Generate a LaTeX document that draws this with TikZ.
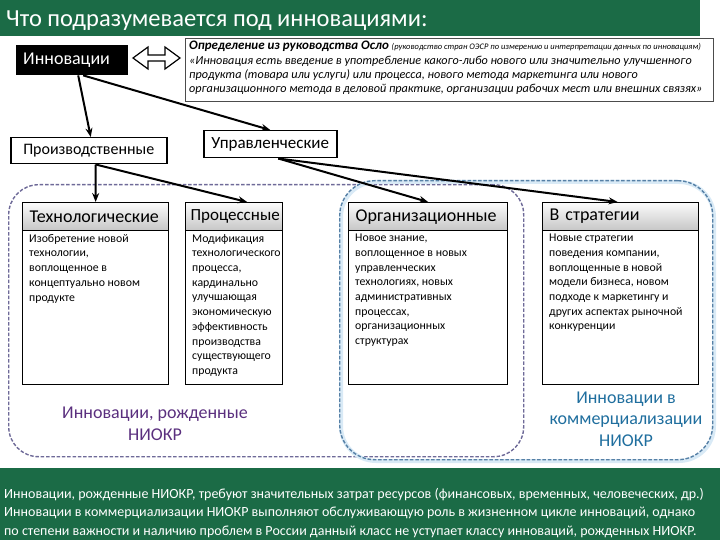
\documentclass[tikz,border=0pt]{standalone}
\usepackage{fontspec}
\setmainfont{Carlito}
\usetikzlibrary{arrows.meta}
\definecolor{grn}{HTML}{1B6B46}
\definecolor{regpurple}{HTML}{6E6A98}
\definecolor{regblue}{HTML}{5680A6}
\definecolor{glowblue}{HTML}{D9EAF6}
\definecolor{txtpurple}{HTML}{5A2F7E}
\definecolor{txtblue}{HTML}{1F6E9E}
\begin{document}
\begin{tikzpicture}[x=1pt,y=-1pt,
  conn/.style={line width=2pt,-{Stealth[length=9pt,width=7pt]}},
  plainbox/.style={draw,line width=1.5pt,fill=white,anchor=north west,inner xsep=6pt,align=left},
  hdr/.style={draw,line width=1.3pt,top color=gray!3,bottom color=gray!45,anchor=north west,minimum height=28pt,inner xsep=7pt,align=left,font=\fontsize{18}{20}\selectfont},
  bodybox/.style={draw,line width=1.3pt,fill=white,anchor=north west},
  bodytxt/.style={anchor=north west,inner sep=0pt,align=left,font=\fontsize{11.8}{14.7}\selectfont},
  region/.style={anchor=north west,line width=1.4pt,dash pattern=on 3.5pt off 1.8pt,inner sep=0pt},
  reglabel/.style={align=center,inner sep=0pt}]
\useasboundingbox (0,0) rectangle (720,540);
% title bar
\fill[grn] (0,0) rectangle (700,36);
\node (title) [anchor=base west,text=white,inner sep=0pt,font=\fontsize{24.5}{26}\selectfont] at (6,27) {Что подразумевается под инновациями:};
% bottom bar
\fill[grn] (0,468) rectangle (720,540);
\node (note) [anchor=north west,text=white,inner sep=0pt,align=left,font=\fontsize{14}{18.3}\selectfont] at (4,488) {Инновации, рожденные НИОКР, требуют значительных затрат ресурсов (финансовых, временных, человеческих, др.)\\Инновации в коммерциализации НИОКР выполняют обслуживающую роль в жизненном цикле инноваций, однако\\по степени важности и наличию проблем в России данный класс не уступает классу инноваций, рожденных НИОКР.};
% regions
\node (rnd) [region,draw=regpurple,rounded corners=30pt,minimum width=515pt,minimum height=272pt] at (8,184) {};
\node (rcomglow) [anchor=north west,draw=glowblue,line width=4pt,rounded corners=35pt,minimum width=373pt,minimum height=279pt,inner sep=0pt] at (339,180) {};
\node (rcom) [region,draw=regblue,rounded corners=35pt,minimum width=373pt,minimum height=279pt] at (339,180) {};
\node (rndlbl) [reglabel,text=txtpurple,font=\fontsize{18}{22}\selectfont] at (155,424) {Инновации, рожденные\\НИОКР};
\node (rcomlbl) [reglabel,text=txtblue,font=\fontsize{18}{21.5}\selectfont] at (626,419) {Инновации в\\коммерциализации\\НИОКР};
% top part
\node (innov) [anchor=north west,fill=black,text=white,minimum width=112pt,minimum height=30pt,text width=98pt,inner xsep=7pt,align=left,font=\fontsize{18}{20}\selectfont] at (16,45) {Инновации};
\draw[line width=1.2pt,fill=white] (133,58) -- (148,47) -- (148,55) -- (165,55) -- (165,47) -- (180,58) -- (165,69) -- (165,61) -- (148,61) -- (148,69) -- cycle;
\node (defn) [anchor=north west,draw=black!70,line width=0.8pt,minimum width=528pt,minimum height=63pt,inner sep=0pt] at (185,38) {};
\node (defntxt) [anchor=north west,inner sep=0pt,align=left,font=\fontsize{12.2}{14.3}\selectfont\itshape] at (189,41) {{\fontsize{13}{14.3}\selectfont\bfseries Определение из руководства Осло} {\fontsize{8.5}{14.3}\selectfont (руководство стран ОЭСР по измерению и интерпретации данных по инновациям)}\\«Инновация есть введение в употребление какого-либо нового или значительно улучшенного\\продукта (товара или услуги) или процесса, нового метода маркетинга или нового\\организационного метода в деловой практике, организации рабочих мест или внешних связях»};
\node (prod) [plainbox,minimum width=156pt,minimum height=26pt,inner xsep=5pt,font=\fontsize{16}{19}\selectfont] at (10,137) {Производственные};
\node (upr) [plainbox,minimum width=133pt,minimum height=27pt,font=\fontsize{17}{19}\selectfont] at (203,130) {Управленческие};
% columns
\node (techb) [bodybox,minimum width=146pt,minimum height=154pt] at (22,230) {};
\node (tech) [hdr,minimum width=146pt,text width=132pt] at (22,202) {Технологические};
\node (techt) [bodytxt] at (29,234) {Изобретение новой\\технологии,\\воплощенное в\\концептуально новом\\продукте};
\node (procb) [bodybox,minimum width=97pt,minimum height=154pt] at (185,230) {};
\node (proc) [hdr,minimum width=97pt,text width=87pt,inner xsep=5pt,font=\fontsize{17}{20}\selectfont] at (185,202) {Процессные};
\node (proct) [bodytxt] at (192,234) {Модификация\\технологического\\процесса,\\кардинально\\улучшающая\\экономическую\\эффективность\\производства\\существующего\\продукта};
\node (orgb) [bodybox,minimum width=159pt,minimum height=154pt] at (348,230) {};
\node (org) [hdr,minimum width=159pt,text width=145pt] at (348,202) {Организационные};
\node (orgt) [bodytxt] at (355,234) {Новое знание,\\воплощенное в новых\\управленческих\\технологиях, новых\\административных\\процессах,\\организационных\\структурах};
\node (stratb) [bodybox,minimum width=156pt,minimum height=154pt] at (542,230) {};
\node (strat) [hdr,minimum width=156pt,text width=142pt] at (542,202) {В стратегии};
\node (stratt) [bodytxt] at (549,234) {Новые стратегии\\поведения компании,\\воплощенные в новой\\модели бизнеса, новом\\подходе к маркетингу и\\других аспектах рыночной\\конкуренции};
% connectors
\draw[conn] ([xshift=6pt]innov.south) -- ([xshift=2pt]prod.north);
\draw[conn] ([xshift=11pt]innov.south) -- (upr.north);
\draw[conn] ([xshift=7pt]prod.south) -- (tech.north);
\draw[conn] ([xshift=7pt]prod.south) -- ([xshift=13pt]proc.north);
\draw[conn] ([xshift=8pt]upr.south) -- (org.north);
\draw[conn] ([xshift=8pt]upr.south) -- ([xshift=-3pt]strat.north);
\end{tikzpicture}
\end{document}
